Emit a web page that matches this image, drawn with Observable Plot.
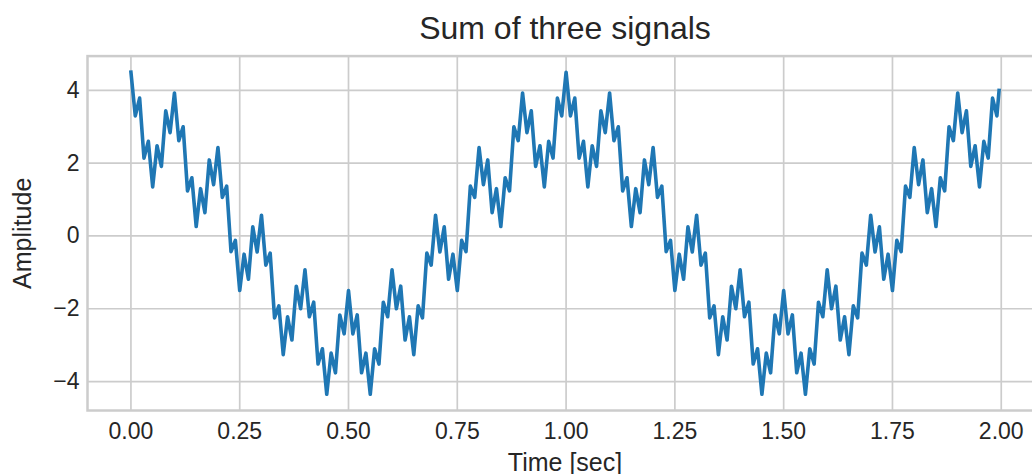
<!DOCTYPE html>
<html><head><meta charset="utf-8">
<script src="https://cdn.jsdelivr.net/npm/d3@7"></script>
<script src="https://cdn.jsdelivr.net/npm/@observablehq/plot@0.6"></script>
<style>
body{margin:0;background:#fff}
#chart{width:1032px;height:474px;overflow:hidden}
</style>
</head><body><div id="chart"></div>
<script>
const title = "Sum of three signals";
const xLabel = "Time [sec]";
const yLabel = "Amplitude";
const xTicks = [0, 0.25, 0.5, 0.75, 1.0, 1.25, 1.5, 1.75, 2.0];
const yTicks = [-4, -2, 0, 2, 4];
const sampleStep = 0.01;
// amplitude, one value per sample (t = 0.00, 0.01, ...)
const amplitude = [
  4.50, 3.30, 3.79, 2.14, 2.60, 1.35, 2.48, 1.91, 3.44, 2.84,
  3.93, 2.62, 3.00, 1.24, 1.60, 0.26, 1.30, 0.64, 2.09, 1.41,
  2.43, 1.06, 1.37, -0.43, -0.12, -1.50, -0.50, -1.19, 0.25, -0.44,
  0.57, -0.80, -0.47, -2.25, -1.92, -3.26, -2.22, -2.86, -1.38, -2.00,
  -0.93, -2.22, -1.82, -3.52, -3.10, -4.35, -3.22, -3.76, -2.17, -2.69,
  -1.50, -2.69, -2.17, -3.76, -3.22, -4.35, -3.10, -3.52, -1.82, -2.22,
  -0.93, -2.00, -1.38, -2.86, -2.22, -3.26, -1.92, -2.25, -0.47, -0.80,
  0.57, -0.44, 0.25, -1.19, -0.50, -1.50, -0.12, -0.43, 1.37, 1.06,
  2.43, 1.41, 2.09, 0.64, 1.30, 0.26, 1.60, 1.24, 3.00, 2.62,
  3.93, 2.84, 3.44, 1.91, 2.48, 1.35, 2.60, 2.14, 3.79, 3.30,
  4.50, 3.30, 3.79, 2.14, 2.60, 1.35, 2.48, 1.91, 3.44, 2.84,
  3.93, 2.62, 3.00, 1.24, 1.60, 0.26, 1.30, 0.64, 2.09, 1.41,
  2.43, 1.06, 1.37, -0.43, -0.12, -1.50, -0.50, -1.19, 0.25, -0.44,
  0.57, -0.80, -0.47, -2.25, -1.92, -3.26, -2.22, -2.86, -1.38, -2.00,
  -0.93, -2.22, -1.82, -3.52, -3.10, -4.35, -3.22, -3.76, -2.17, -2.69,
  -1.50, -2.69, -2.17, -3.76, -3.22, -4.35, -3.10, -3.52, -1.82, -2.22,
  -0.93, -2.00, -1.38, -2.86, -2.22, -3.26, -1.92, -2.25, -0.47, -0.80,
  0.57, -0.44, 0.25, -1.19, -0.50, -1.50, -0.12, -0.43, 1.37, 1.06,
  2.43, 1.41, 2.09, 0.64, 1.30, 0.26, 1.60, 1.24, 3.00, 2.62,
  3.93, 2.84, 3.44, 1.91, 2.48, 1.35, 2.60, 2.14, 3.79, 3.30
];
const lastTime = 1.995;
const lastAmplitude = 4.0;

const data = amplitude.map((v, i) => ({t: i * sampleStep, v}));
data.push({t: lastTime, v: lastAmplitude});

const fmtY = d => d < 0 ? "\u2212" + Math.abs(d) : String(d);
const fmtX = d => d.toFixed(2);
const ink = "#262626";
const gridColor = "#cccccc";

const chart = Plot.plot({
  width: 1032,
  height: 474,
  marginLeft: 87,
  marginRight: -10,
  marginTop: 55.6,
  marginBottom: 64,
  style: {fontFamily: "'Liberation Sans', Arial, sans-serif", color: ink, background: "#fff", overflow: "hidden"},
  x: {domain: [-0.0998, 2.0948], label: null},
  y: {domain: [-4.796, 4.943], label: null},
  marks: [
    Plot.gridX(xTicks, {stroke: gridColor, strokeOpacity: 1, strokeWidth: 1.7}),
    Plot.gridY(yTicks, {stroke: gridColor, strokeOpacity: 1, strokeWidth: 1.7}),
    Plot.frame({stroke: gridColor, strokeWidth: 2.5}),
    Plot.line(data, {x: "t", y: "v", stroke: "#1f77b4", strokeWidth: 3.6, strokeLinejoin: "round", strokeLinecap: "square"}),
    Plot.axisX(xTicks, {tickSize: 0, tickPadding: 12, tickFormat: fmtX, fontSize: 23, fill: ink, label: null}),
    Plot.axisY(yTicks, {tickSize: 0, tickPadding: 8, tickFormat: fmtY, fontSize: 23, fill: ink, label: null}),
    Plot.text([title], {frameAnchor: "top", lineAnchor: "middle", textAnchor: "middle", dy: -27, fontSize: 32, fill: ink}),
    Plot.text([xLabel], {frameAnchor: "bottom", lineAnchor: "middle", textAnchor: "middle", dy: 52, fontSize: 25, fill: ink}),
    Plot.text([yLabel], {frameAnchor: "left", lineAnchor: "middle", textAnchor: "middle", dx: -65, rotate: -90, fontSize: 25, fill: ink})
  ]
});
document.getElementById("chart").appendChild(chart);
</script>
</body></html>
